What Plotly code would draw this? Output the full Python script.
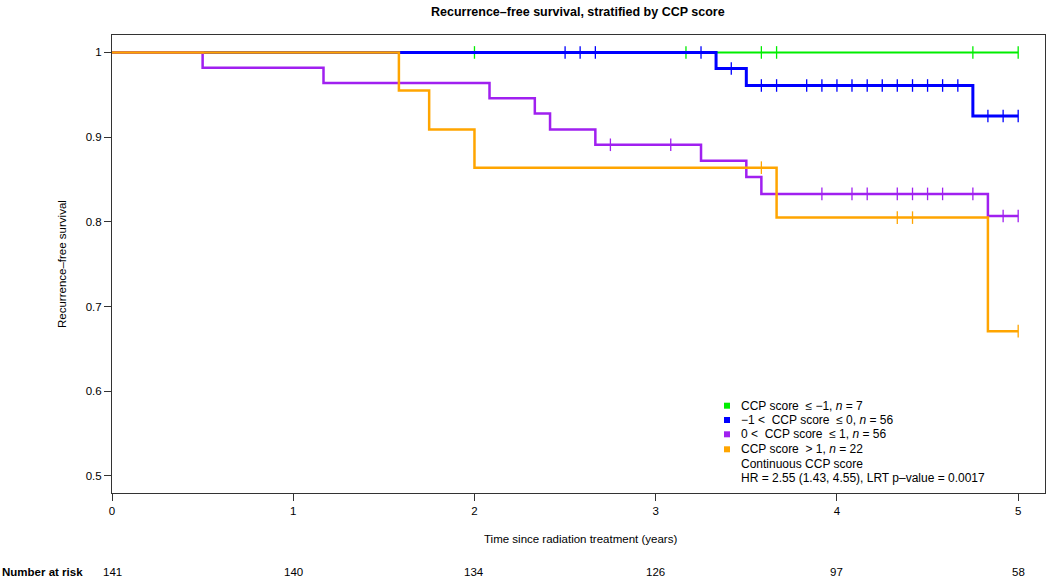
import numpy as np
import plotly.graph_objs as go

# --------------------------------------------------
# Kaplan-Meier curves (step start times / survival)
green_t = [0.0]
green_s = [1.0]
green_cens = [2.0, 3.167, 3.583, 3.667, 4.75, 5.0]

blue_t = [0.0, 3.333, 3.5, 4.75]
blue_s = [1.0, 0.981, 0.961, 0.925]
blue_cens = [2.5, 2.583, 2.667, 3.25, 3.417, 3.583, 3.667, 3.833, 3.917, 4.0,
             4.083, 4.167, 4.25, 4.333, 4.417, 4.5, 4.583, 4.667, 4.833, 4.917, 5.0]

purple_t = [0.0, 0.5, 1.167, 2.083, 2.333, 2.417, 2.667, 3.25, 3.5, 3.583, 4.833]
purple_s = [1.0, 0.982, 0.964, 0.946, 0.928, 0.909, 0.891, 0.872, 0.853, 0.833, 0.807]
purple_cens = [2.75, 3.083, 3.917, 4.083, 4.167, 4.333, 4.417, 4.5, 4.583, 4.75, 4.917, 5.0]

orange_t = [0.0, 1.583, 1.75, 2.0, 3.667, 4.833]
orange_s = [1.0, 0.955, 0.909, 0.864, 0.805, 0.671]
orange_cens = [3.583, 4.333, 4.417, 5.0]

end_time = 5.0

risk_times = [0, 1, 2, 3, 4, 5]
at_risk = [141, 140, 134, 126, 97, 58]

legend_labels = [
    "CCP score  \u2264 \u22121, <i>n</i> = 7",
    "\u22121 <  CCP score  \u2264 0, <i>n</i> = 56",
    "0 <  CCP score  \u2264 1, <i>n</i> = 56",
    "CCP score  > 1, <i>n</i> = 22",
]
colors = ['#00ee00', '#0000ff', '#a020f0', '#ffa500']
widths = [2, 3, 2.5, 2.5]

groups = [
    (green_t, green_s, green_cens),
    (blue_t, blue_s, blue_cens),
    (purple_t, purple_s, purple_cens),
    (orange_t, orange_s, orange_cens),
]

FONT = 'Liberation Sans, Arial, Helvetica, sans-serif'

traces = []
for (t, s, cens), col, w in zip(groups, colors, widths):
    x = list(t) + [end_time]
    y = list(s) + [s[-1]]
    traces.append(go.Scatter(x=x, y=y, mode='lines', line=dict(color=col, width=w, shape='hv'),
                             hoverinfo='skip', showlegend=False))
    idx = np.searchsorted(t, cens, side='right') - 1
    cy = [s[i] for i in idx]
    traces.append(go.Scatter(x=cens, y=cy, mode='markers',
                             marker=dict(symbol='line-ns', size=9, line=dict(color=col, width=1.3)),
                             hoverinfo='skip', showlegend=False))

# plot area in pixels: left 112, right 1045, top 35, bottom 493
L, R, T, B = 112, 1045, 35, 493
PW, PH = R - L, B - T


def px(xp):
    return (xp - L) / PW


def py_(yp):
    return (B - yp) / PH


annotations = [
    dict(text='<b>Recurrence\u2013free survival, stratified by CCP score</b>', x=px(578), y=py_(12),
         xref='paper', yref='paper', showarrow=False, font=dict(size=12.5, color='black'),
         xanchor='center', yanchor='middle'),
    dict(text='Recurrence\u2013free survival', x=px(62), y=py_(264), xref='paper', yref='paper',
         showarrow=False, textangle=-90, font=dict(size=11.5, color='black'),
         xanchor='center', yanchor='middle'),
    dict(text='Time since radiation treatment (years)', x=px(580), y=py_(539), xref='paper',
         yref='paper', showarrow=False, font=dict(size=11.5, color='black'),
         xanchor='center', yanchor='middle'),
    dict(text='<b>Number at risk</b>', x=px(0), y=py_(572), xref='paper', yref='paper',
         showarrow=False, font=dict(size=11.5, color='black'), xanchor='left', yanchor='middle'),
]
for t, n in zip(risk_times, at_risk):
    annotations.append(dict(text=str(n), x=t, y=py_(572), xref='x', yref='paper', showarrow=False,
                            font=dict(size=11.5, color='black'), xanchor='center', yanchor='middle'))

shapes = []
row_y = [405.7, 420, 434.3, 449.3]
for lab, col, yy in zip(legend_labels, colors, row_y):
    shapes.append(dict(type='rect', xref='paper', yref='paper',
                       x0=px(724), x1=px(730), y0=py_(yy + 3), y1=py_(yy - 3),
                       fillcolor=col, line=dict(width=0)))
    annotations.append(dict(text=lab, x=px(739), y=py_(yy), xref='paper', yref='paper',
                            showarrow=False, font=dict(size=12, color='black'),
                            xanchor='left', yanchor='middle'))
annotations.append(dict(text='Continuous CCP score', x=px(739), y=py_(464), xref='paper',
                        yref='paper', showarrow=False, font=dict(size=12, color='black'),
                        xanchor='left', yanchor='middle'))
annotations.append(dict(text='HR = 2.55 (1.43, 4.55), LRT p\u2013value = 0.0017', x=px(739),
                        y=py_(478.3), xref='paper', yref='paper', showarrow=False,
                        font=dict(size=12, color='black'), xanchor='left', yanchor='middle'))

layout = go.Layout(
    width=1050,
    height=577,
    margin=dict(l=L, r=1050 - R, t=T, b=577 - B, pad=0),
    plot_bgcolor='white',
    paper_bgcolor='white',
    font=dict(family=FONT, color='black', size=11.5),
    xaxis=dict(range=[0, 5.148], tickvals=risk_times, ticktext=[str(v) for v in risk_times],
               showgrid=False, zeroline=False, showline=True, linecolor='#333', linewidth=1,
               mirror=True, ticks='outside', ticklen=7, tickcolor='#333',
               tickfont=dict(size=11.5), automargin=False),
    yaxis=dict(range=[0.4799, 1.0206], tickvals=[0.5, 0.6, 0.7, 0.8, 0.9, 1.0],
               ticktext=['0.5', '0.6', '0.7', '0.8', '0.9', '1'],
               showgrid=False, zeroline=False, showline=True, linecolor='#333', linewidth=1,
               mirror=True, ticks='outside', ticklen=7, tickcolor='#333',
               tickfont=dict(size=11.5), automargin=False),
    annotations=annotations,
    shapes=shapes,
    showlegend=False,
)

fig = go.Figure(data=traces, layout=layout)
# the page's default body margin would push the figure 8px down/right
fig.write_html("out.html", config={'displayModeBar': False},
               post_script="document.body.style.margin='0';")
